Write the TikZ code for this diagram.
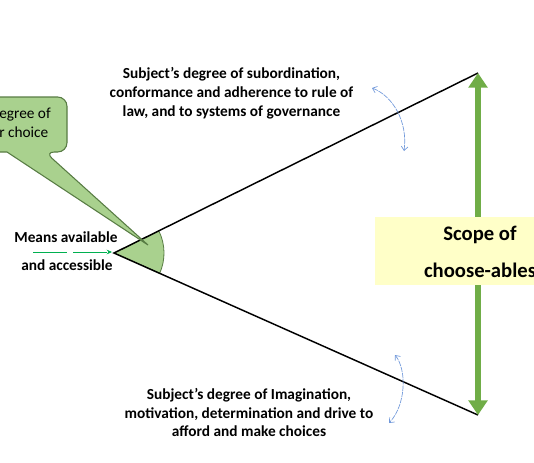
\documentclass[tikz,border=0pt]{standalone}
\usepackage{fontspec}
\setmainfont{Carlito}
\usetikzlibrary{arrows.meta,positioning}

\definecolor{leafgreen}{HTML}{A9D18E}
\definecolor{leafline}{HTML}{587C44}
\definecolor{scopegreen}{HTML}{70AD47}
\definecolor{scopeyellow}{HTML}{FFFFC8}
\definecolor{meansgreen}{HTML}{00B050}
\definecolor{swingblue}{HTML}{7098DA}

\begin{document}
\begin{tikzpicture}[x=0.75pt,y=-0.75pt,
  lbl/.style={font=\fontsize{11.5}{14.2}\selectfont\bfseries,align=center,inner sep=0pt},
  swing/.style={swingblue,line width=0.5pt,dash pattern=on 4pt off 0.7pt,
    {Straight Barb[length=3pt,width=5pt]}-{Straight Barb[length=3pt,width=5pt]}}]
  \useasboundingbox (0,0) rectangle (534,462);
  \clip (0,0) rectangle (534,462);
  \coordinate (apex) at (114,253);
  \coordinate (topend) at (478,73);
  \coordinate (botend) at (478,415);
  % green wedge at the apex
  \filldraw[fill=leafgreen,draw=leafline,line width=0.6pt]
    (apex) -- ++(26.3:37.5pt) arc[start angle=26.3,end angle=-24,radius=37.5pt] -- cycle;
  \draw[line width=1.1pt] (topend) -- (apex) -- (botend);
  % scope of choose-ables
  \draw[scopegreen,line width=4.5pt,
    {Triangle[length=11pt,width=14pt]}-{Triangle[length=11pt,width=14pt]}] (topend) -- (botend);
  \node[fill=scopeyellow,minimum width=160pt,minimum height=51pt,inner sep=0pt] (scopebox) at (482,251) {};
  \node[font=\fontsize{15.5}{27.7}\selectfont\bfseries,align=center] (scopetext) at (480,251.5)
    {Scope of\\choose-ables};
  % callout
  \filldraw[fill=leafgreen,draw=leafline,line width=0.8pt,rounded corners=7pt]
    (-60,97) -- (67,97) -- (67,152) -- (45,152) [sharp corners] -- (148,245) -- (7,152)
    [rounded corners=7pt] -- (-60,152) -- cycle;
  \node[font=\fontsize{11.5}{14.2}\selectfont,align=left,anchor=west,inner sep=0pt] (callouttext)
    at (-1,122.5) {egree of\\r choice};
  % means
  \node[lbl] (meanstop) at (66,237) {Means available};
  \node[lbl] (meansbot) at (67,265) {and accessible};
  \coordinate (meansstart) at (33,252);
  \coordinate (meansend) at (112,252);
  \draw[meansgreen,line width=0.6pt,dash pattern=on 25.5pt off 4.5pt,
    -{Stealth[length=4pt,width=3.5pt]}] (meansstart) -- (meansend);
  % labels on the two sides
  \node[lbl] (uppertext) at (231.5,93.5)
    {Subject’s degree of subordination,\\conformance and adherence to rule of\\law, and to systems of governance};
  \node[lbl] (lowertext) at (249,412.5)
    {Subject’s degree of Imagination,\\motivation, determination and drive to\\afford and make choices};
  \coordinate (upswinga) at (372,88);
  \coordinate (upswingb) at (404,151);
  \coordinate (lowswinga) at (395,355);
  \coordinate (lowswingb) at (389,423);
  \draw[swing] (upswinga) .. controls (393,96) and (408,122) .. (upswingb);
  \draw[swing] (lowswinga) .. controls (407,370) and (406,405) .. (lowswingb);
\end{tikzpicture}
\end{document}
